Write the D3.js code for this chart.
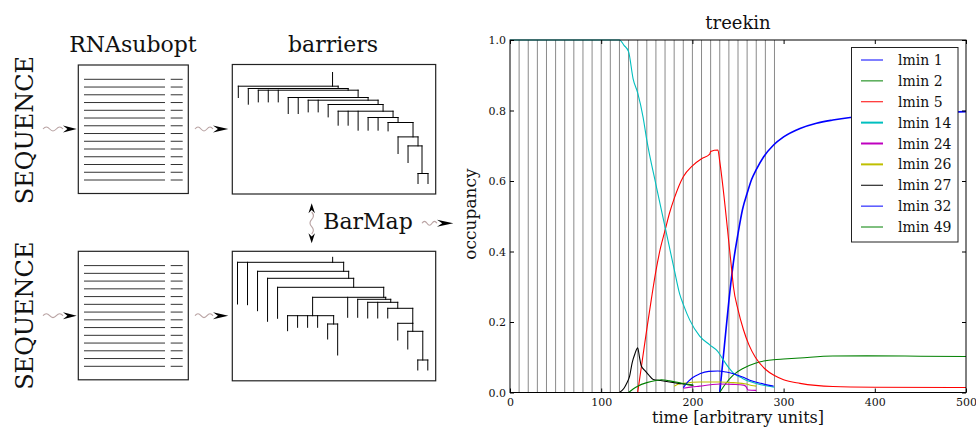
<!DOCTYPE html>
<html lang="en">
<head>
<meta charset="utf-8">
<script src="https://d3js.org/d3.v7.min.js"></script>
<style>
  body {margin: 0; background: #fff;}
  svg text {font-family: "DejaVu Serif", serif; fill: #111;}
</style>
</head>
<body>
<svg id="fig" width="976" height="428"></svg>
<script>
// ---- treekin data (time, occupancy) ----
const switchTimes = [10,20,30,40,50,60,70,80,90,100,110,120,130,140,150,160,170,180,190,200,210,220,230,240,250,260,270,280,290];
const xTicks = [0,100,200,300,400,500];
const yTicks = [0,0.2,0.4,0.6,0.8,1.0];

const legendNames = ["lmin 1","lmin 2","lmin 5","lmin 14","lmin 24","lmin 26","lmin 27","lmin 32","lmin 49"];
const legendColors = ["#0000ff","#008000","#ff0000","#00bfbf","#bf00bf","#bfbf00","#000000","#0000ff","#008000"];

const lmin1 = [[230,0],[235,0.13],[240,0.26],[245,0.37],[250,0.45],[255,0.52],[260,0.565],[265,0.605],[270,0.632],[278,0.668],[289,0.702],[300,0.725],[318,0.749],[336,0.764],[354,0.773],[373,0.78],[400,0.786],[450,0.792],[500,0.797]];
const lmin2 = [[230,0],[235,0.02],[245,0.05],[256,0.069],[269,0.083],[280,0.09],[289,0.093],[300,0.095],[318,0.098],[354,0.1035],[391,0.104],[450,0.103],[500,0.102]];
const lmin5 = [[140,0],[145,0.09],[150,0.18],[155,0.265],[160,0.345],[165,0.41],[170,0.46],[175,0.51],[180,0.55],[190,0.612],[200,0.643],[210,0.663],[219,0.676],[220,0.684],[228,0.688],[230,0.655],[241,0.40],[243,0.35],[245,0.30],[250,0.235],[256,0.178],[262,0.135],[269,0.1],[280,0.066],[290,0.048],[300,0.036],[318,0.026],[354,0.017],[400,0.015],[500,0.014]];
const lmin14 = [[0,1],[120,1],[125,0.985],[130,0.967],[135,0.89],[140,0.85],[146,0.78],[150,0.716],[160,0.59],[170,0.47],[180,0.35],[186,0.28],[190,0.25],[197,0.206],[208,0.16],[219,0.135],[228,0.116],[232,0.10],[240,0.07],[245,0.055],[255,0.04],[263,0.031],[275,0.022],[290,0.015]];
const lmin24 = [[190,0.012],[200,0.016],[208,0.018],[220,0.022],[230,0.024],[245,0.023],[256,0.021],[259,0.016],[261,0.007],[270,0.006]];
const lmin26 = [[180,0.018],[185,0.024],[190,0.026],[208,0.03],[230,0.03],[245,0.028],[259,0.024],[265,0.02],[270,0.018]];
const lmin27 = [[120,0],[125,0.012],[128,0.026],[131,0.045],[134,0.085],[137,0.11],[140,0.127],[142,0.1],[144,0.075],[148,0.062],[152,0.05],[157,0.037],[165,0.034],[175,0.03],[185,0.026],[195,0.022],[201,0.02]];
const lmin32 = [[190,0.014],[195,0.03],[200,0.042],[208,0.053],[218,0.06],[228,0.061],[237,0.058],[245,0.053],[255,0.044],[263,0.035],[275,0.026],[289,0.018]];
const lmin49 = [[130,0],[135,0.01],[140,0.018],[150,0.028],[160,0.034],[166,0.036],[175,0.033],[185,0.028],[195,0.023],[201,0.021]];
const seriesList = [lmin1, lmin2, lmin5, lmin14, lmin24, lmin26, lmin27, lmin32, lmin49];

// ---- barrier trees: saddles [id, parent, height, x], minima [leaf index, parent, energy] ----
const saddlesTop = [["r",null,21.7,9.44],["s1","r",24,10],["s2","s1",25.7,11],["s3","s2",33,12],["s4","s3",35.7,13],["s5","s4",40,14],["s6","s5",46.7,14.5],["s7","s6",53,15.5],["s8","s7",58,16],["s9","s8",72.4,17.5],["s10","s9",81.4,18],["s11","s10",109,18.4]];
const minimaTop = [[0,"r",33],[1,"s1",39.7],[2,"s2",37.4],[3,"s2",37.4],[4,"s2",37.4],[5,"s3",49],[6,"s3",49],[7,"s4",47.4],[8,"s4",47.4],[9,"s5",52.4],[10,"s6",60.7],[11,"s6",60.7],[12,"s6",65.7],[13,"s7",65.7],[14,"s7",65.7],[15,"s8",66.4],[16,"s9",89],[17,"s10",98],[18,"s11",119],[19,"s11",119]];
const rootTopStart = 8;

const saddlesBottom = [["r",null,11,9.5],["a","r",20,10.6],["b","a",27,11.1],["c","b",36,11.6],["d","c",46,14.6],["e","d",64.4,7.5],["e2","e",72.7,9.6],["f","d",48,14.8],["g","f",51,15.3],["h","g",57,16],["i","h",72,17.5],["j","i",80,17.5],["k","j",108.7,18.5]];
const minimaBottom = [[0,"r",52.7],[1,"r",53.4],[2,"a",59.4],[3,"b",70],[4,"c",67],[5,"e",79.4],[6,"e",76],[7,"e",76],[8,"e",76],[9,"e2",87.7],[10,"e2",103.7],[11,"d",66],[12,"f",66],[13,"g",66.7],[14,"g",66.7],[15,"h",66.7],[16,"i",88.7],[17,"j",97.7],[18,"k",118.7],[19,"k",118.7]];
const rootBottomStart = 6;

const suboptRows = d3.range(14);

const svg = d3.select("#fig");

// ================= right: treekin plot =================
const x = d3.scaleLinear().domain([0, 500]).range([510, 966]);
const y = d3.scaleLinear().domain([0, 1]).range([392.5, 40]);

const plot = svg.append("g");

plot.selectAll("line.sw")
  .data(switchTimes)
  .join("line")
  .attr("x1", d => x(d)).attr("x2", d => x(d))
  .attr("y1", y(0)).attr("y2", y(1))
  .attr("stroke", "#8a8a8a").attr("stroke-width", 1);

const line = d3.line().x(d => x(d[0])).y(d => y(d[1])).curve(d3.curveMonotoneX);

plot.selectAll("path.series")
  .data(seriesList)
  .join("path")
  .attr("fill", "none")
  .attr("stroke", (d, i) => legendColors[i])
  .attr("stroke-width", (d, i) => i === 0 ? 1.6 : 1.1)
  .attr("d", line);

// frame + inward ticks on all four sides
function styleAxis(g) {
  g.select(".domain").remove();
  g.selectAll(".tick line").attr("stroke", "#000");
  g.selectAll("text").attr("font-family", "DejaVu Serif").attr("font-size", 11).attr("fill", "#222");
}
plot.append("g").attr("transform", `translate(0,${y(0)})`)
  .call(d3.axisBottom(x).tickValues(xTicks).tickSizeInner(-4).tickSizeOuter(0).tickPadding(5.5).tickFormat(d3.format("d")))
  .call(styleAxis);
plot.append("g").attr("transform", `translate(0,${y(1)})`)
  .call(d3.axisTop(x).tickValues(xTicks).tickSizeInner(-4).tickSizeOuter(0).tickFormat(""))
  .call(styleAxis);
plot.append("g").attr("transform", `translate(${x(0)},0)`)
  .call(d3.axisLeft(y).tickValues(yTicks).tickSizeInner(-4).tickSizeOuter(0).tickPadding(4).tickFormat(d3.format(".1f")))
  .call(styleAxis);
plot.append("g").attr("transform", `translate(${x(500)},0)`)
  .call(d3.axisRight(y).tickValues(yTicks).tickSizeInner(-4).tickSizeOuter(0).tickFormat(""))
  .call(styleAxis);

plot.append("rect")
  .attr("x", x(0)).attr("y", y(1))
  .attr("width", x(500) - x(0)).attr("height", y(0) - y(1))
  .attr("fill", "none").attr("stroke", "#000").attr("stroke-width", 1);

plot.append("text").attr("x", 738).attr("y", 29).attr("text-anchor", "middle")
  .attr("font-size", 18).text("treekin");
plot.append("text").attr("x", 738).attr("y", 423).attr("text-anchor", "middle")
  .attr("font-size", 16).text("time [arbitrary units]");
plot.append("text").attr("transform", "translate(476,214) rotate(-90)").attr("text-anchor", "middle")
  .attr("font-size", 17).text("occupancy");

// legend
const legend = plot.append("g");
legend.append("rect").attr("x", 851.5).attr("y", 47.5).attr("width", 106.5).attr("height", 194.5)
  .attr("fill", "#fff").attr("stroke", "#222").attr("stroke-width", 1);
const rowY = d3.scaleLinear().domain([0, 8]).range([60, 227]);
const li = legend.selectAll("g.item").data(legendNames).join("g")
  .attr("transform", (d, i) => `translate(0,${rowY(i)})`);
li.append("line").attr("x1", 861).attr("x2", 883).attr("y1", 0).attr("y2", 0)
  .attr("stroke", (d, i) => legendColors[i])
  .attr("stroke-width", (d, i) => (i >= 3 && i <= 5) ? 2 : 1);
li.append("text").attr("x", 898).attr("y", 5).attr("font-size", 14).text(d => d);

// ================= left: schematic =================
const left = svg.append("g");
const boxStroke = "#222";

function suboptBox(bx, by) {
  left.append("rect").attr("x", bx).attr("y", by).attr("width", 110).attr("height", 128.5)
    .attr("fill", "#fff").attr("stroke", boxStroke).attr("stroke-width", 1.2);
  const ry = d3.scaleLinear().domain([0, 13]).range([by + 14.3, by + 115]);
  const g = left.append("g");
  g.selectAll("line.long").data(suboptRows).join("line")
    .attr("x1", bx + 5.7).attr("x2", bx + 86.7)
    .attr("y1", d => ry(d)).attr("y2", d => ry(d))
    .attr("stroke", "#333").attr("stroke-width", 1);
  g.selectAll("line.short").data(suboptRows).join("line").attr("class", "short")
    .attr("x1", bx + 92.4).attr("x2", bx + 104.4)
    .attr("y1", d => ry(d)).attr("y2", d => ry(d))
    .attr("stroke", "#333").attr("stroke-width", 1);
}

function barrierBox(bx, by, saddles, minima, stemTop, leafX0, leafX1) {
  left.append("rect").attr("x", bx).attr("y", by).attr("width", 203.4).attr("height", 129.5)
    .attr("fill", "#fff").attr("stroke", boxStroke).attr("stroke-width", 1.2);
  const lx = d3.scaleLinear().domain([0, 19]).range([leafX0, leafX1]);
  const ey = d3.scaleLinear().domain([0, 130]).range([by, by + 130]);
  const rows = saddles.map(d => ({id: d[0], parent: d[1], level: d[2], at: d[3]}))
    .concat(minima.map(d => ({id: "m" + d[0], parent: d[1], level: d[2], at: d[0]})));
  const root = d3.stratify().id(d => d.id).parentId(d => d.parent)(rows);
  const segs = [[root.data.at, stemTop, root.data.at, root.data.level]];
  root.each(n => {
    if (n.parent) segs.push([n.data.at, n.parent.data.level, n.data.at, n.data.level]);
    if (n.children) {
      const ks = n.children.map(k => k.data.at);
      segs.push([d3.min(ks), n.data.level, d3.max(ks), n.data.level]);
    }
  });
  left.append("g").selectAll("line").data(segs).join("line")
    .attr("x1", d => lx(d[0])).attr("y1", d => ey(d[1]))
    .attr("x2", d => lx(d[2])).attr("y2", d => ey(d[3]))
    .attr("stroke", "#000").attr("stroke-width", 1).attr("stroke-linecap", "square");
}

// squiggle + stealth arrow head
function wave(x0, x1, yy, amp) {
  const n = 3, w = (x1 - x0) / n;
  let p = `M${x0},${yy}`;
  for (let k = 0; k < n; k++) {
    const s = k % 2 ? 1 : -1;
    p += ` C${x0 + w * k + w * 0.35},${yy + s * amp} ${x0 + w * (k + 1) - w * 0.35},${yy + s * amp} ${x0 + w * (k + 1)},${yy}`;
  }
  return p;
}
function head(tx, ty, dir, len, wid) {
  // dir: 0 right, 1 up, 2 down
  const pts = [[0, 0], [-len, -wid / 2], [-len * 0.68, 0], [-len, wid / 2]];
  const rot = [0, -90, 90][dir];
  left.append("path").attr("d", "M" + pts.map(p => p.join(",")).join("L") + "Z")
    .attr("transform", `translate(${tx},${ty}) rotate(${rot})`).attr("fill", "#000");
}
function hArrow(x0, x1, tip, yy) {
  left.append("path").attr("d", wave(x0, x1, yy, 2.6)).attr("fill", "none")
    .attr("stroke", "#b9a3a3").attr("stroke-width", 1.1);
  head(tip, yy, 0, tip - x1, 7);
}

suboptBox(78.3, 65);
suboptBox(78.3, 251.3);
barrierBox(232.3, 64.5, saddlesTop, minimaTop, rootTopStart, 238.3, 428);
barrierBox(232.3, 251.3, saddlesBottom, minimaBottom, rootBottomStart, 237.5, 427.8);

hArrow(43, 63, 76.7, 129);
hArrow(195, 213, 228.3, 129);
hArrow(43, 63, 76.7, 315.7);
hArrow(195, 213, 228.3, 315.7);
hArrow(422, 437, 453.3, 223.3);

// BarMap double arrow
left.append("path").attr("d", wave(212, 234, 0, 2.4)).attr("transform", "translate(311.7,0) rotate(90)")
  .attr("fill", "none").attr("stroke", "#b9a3a3").attr("stroke-width", 1.1);
head(311.7, 203.3, 1, 10, 6.5);
head(311.7, 243.3, 2, 10, 6.5);

left.append("text").attr("x", 133).attr("y", 52).attr("text-anchor", "middle").attr("font-size", 22).text("RNAsubopt");
left.append("text").attr("x", 333).attr("y", 52).attr("text-anchor", "middle").attr("font-size", 22).text("barriers");
left.append("text").attr("x", 323.3).attr("y", 229).attr("font-size", 22).text("BarMap");
left.append("text").attr("transform", "translate(33,130) rotate(-90)").attr("text-anchor", "middle").attr("font-size", 24).text("SEQUENCE");
left.append("text").attr("transform", "translate(33,315.7) rotate(-90)").attr("text-anchor", "middle").attr("font-size", 24).text("SEQUENCE");
</script>
</body>
</html>
